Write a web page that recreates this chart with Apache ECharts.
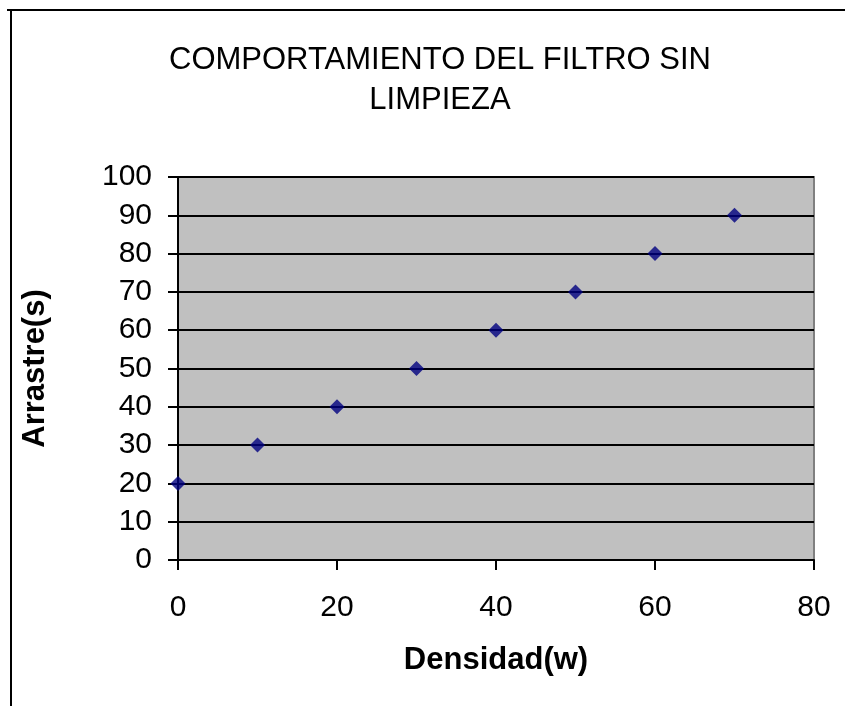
<!DOCTYPE html>
<html>
<head>
<meta charset="utf-8">
<script src="https://cdn.jsdelivr.net/npm/echarts@6/dist/echarts.min.js"></script>
<style>
html,body{margin:0;padding:0;background:#fff;}
#main{width:845px;height:706px;}
</style>
</head>
<body>
<div id="main"></div>
<script>
const densidad = [0, 10, 20, 30, 40, 50, 60, 70];
const arrastre = [20, 30, 40, 50, 60, 70, 80, 90];
const titleText = 'COMPORTAMIENTO DEL FILTRO SIN\nLIMPIEZA';
const xName = 'Densidad(w)';
const yName = 'Arrastre(s)';

const points = densidad.map((d, i) => [d, arrastre[i]]);
const font = '"Liberation Sans", Arial, sans-serif';

const chart = echarts.init(document.getElementById('main'));
chart.setOption({
  animation: false,
  backgroundColor: '#ffffff',
  title: {
    text: titleText,
    left: 435,
    top: 35,
    textAlign: 'center',
    textStyle: {
      fontFamily: font,
      fontSize: 31,
      fontWeight: 'normal',
      color: '#000',
      lineHeight: 40
    }
  },
  graphic: [
    { type: 'line', shape: { x1: 7, y1: 10, x2: 845, y2: 10 }, style: { stroke: '#000', lineWidth: 2 } },
    { type: 'line', shape: { x1: 11, y1: 10, x2: 11, y2: 706 }, style: { stroke: '#000', lineWidth: 2 } }
  ],
  grid: {
    left: 178,
    top: 177,
    width: 636,
    height: 383,
    show: true,
    backgroundColor: '#c0c0c0',
    borderColor: '#808080',
    borderWidth: 2
  },
  xAxis: {
    type: 'value',
    min: 0,
    max: 80,
    interval: 20,
    name: xName,
    nameLocation: 'middle',
    nameGap: 85,
    nameTextStyle: { fontFamily: font, fontSize: 31, fontWeight: 'bold', color: '#000' },
    axisLine: { show: true, lineStyle: { color: '#000', width: 2 } },
    axisTick: { show: true, inside: false, length: 10, lineStyle: { color: '#000', width: 2 } },
    axisLabel: { fontFamily: font, fontSize: 30, color: '#000', margin: 33 },
    splitLine: { show: false }
  },
  yAxis: {
    type: 'value',
    min: 0,
    max: 100,
    interval: 10,
    name: yName,
    nameLocation: 'middle',
    nameGap: 127,
    nameTextStyle: { fontFamily: font, fontSize: 31, fontWeight: 'bold', color: '#000' },
    axisLine: { show: true, lineStyle: { color: '#000', width: 2 } },
    axisTick: { show: true, inside: false, length: 10, lineStyle: { color: '#000', width: 2 } },
    axisLabel: { fontFamily: font, fontSize: 30, color: '#000', margin: 26 },
    splitLine: { show: true, lineStyle: { color: '#000', width: 2 } }
  },
  series: [{
    type: 'scatter',
    data: points,
    symbol: 'diamond',
    symbolSize: 15,
    itemStyle: { color: '#000080' }
  }]
});
</script>
</body>
</html>
